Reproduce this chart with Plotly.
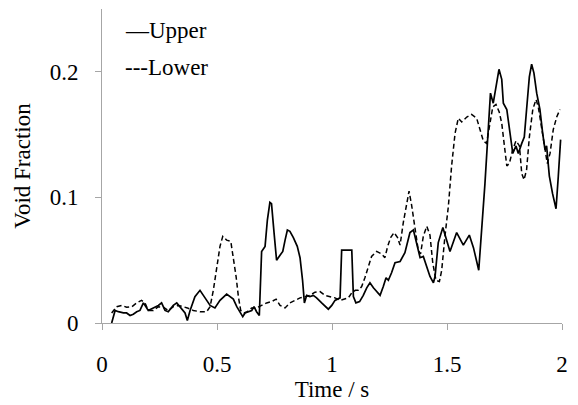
import plotly.graph_objects as go

# Upper (solid) series
upper_t = [0.042, 0.057, 0.071, 0.093, 0.107, 0.122, 0.136, 0.151, 0.165, 0.180, 0.201, 0.223, 0.245, 0.259,
           0.274, 0.288, 0.310, 0.325, 0.339, 0.361, 0.371, 0.383, 0.404, 0.426, 0.448, 0.470, 0.491, 0.513,
           0.542, 0.571, 0.586, 0.600, 0.612, 0.622, 0.636, 0.651, 0.661, 0.672, 0.684, 0.694, 0.709, 0.719,
           0.730, 0.737, 0.748, 0.759, 0.774, 0.786, 0.796, 0.806, 0.817, 0.832, 0.849, 0.861, 0.872, 0.880,
           0.890, 0.904, 0.919, 0.933, 0.955, 0.970, 0.984, 0.999, 1.013, 1.035, 1.042, 1.064, 1.086, 1.093,
           1.104, 1.120, 1.136, 1.151, 1.165, 1.180, 1.194, 1.209, 1.223, 1.235, 1.245, 1.259, 1.274, 1.296,
           1.317, 1.339, 1.354, 1.368, 1.383, 1.397, 1.412, 1.426, 1.441, 1.448, 1.462, 1.482, 1.513, 1.542,
           1.571, 1.597, 1.615, 1.638, 1.665, 1.689, 1.701, 1.713, 1.726, 1.738, 1.745, 1.760, 1.771, 1.786,
           1.800, 1.810, 1.825, 1.836, 1.846, 1.858, 1.868, 1.878, 1.890, 1.904, 1.916, 1.926, 1.933, 1.945,
           1.959, 1.974, 1.984, 1.994]
upper_v = [0.000, 0.010, 0.009, 0.008, 0.008, 0.006, 0.007, 0.009, 0.010, 0.016, 0.010, 0.012, 0.014, 0.016,
           0.010, 0.009, 0.014, 0.016, 0.013, 0.008, 0.002, 0.010, 0.021, 0.026, 0.020, 0.014, 0.012, 0.018,
           0.023, 0.019, 0.013, 0.009, 0.005, 0.008, 0.009, 0.010, 0.013, 0.009, 0.006, 0.057, 0.061, 0.082,
           0.096, 0.095, 0.072, 0.050, 0.054, 0.057, 0.066, 0.074, 0.073, 0.068, 0.061, 0.052, 0.034, 0.016,
           0.022, 0.021, 0.022, 0.020, 0.016, 0.013, 0.011, 0.014, 0.018, 0.020, 0.058, 0.058, 0.058, 0.021,
           0.016, 0.017, 0.022, 0.028, 0.032, 0.028, 0.025, 0.022, 0.029, 0.036, 0.034, 0.040, 0.048, 0.049,
           0.056, 0.072, 0.074, 0.064, 0.052, 0.053, 0.045, 0.037, 0.032, 0.037, 0.064, 0.076, 0.057, 0.072,
           0.062, 0.070, 0.060, 0.042, 0.111, 0.183, 0.175, 0.188, 0.202, 0.194, 0.175, 0.170, 0.154, 0.135,
           0.141, 0.135, 0.143, 0.148, 0.170, 0.196, 0.206, 0.199, 0.183, 0.170, 0.151, 0.138, 0.141, 0.117,
           0.103, 0.091, 0.117, 0.146]

# Lower (dashed) series
lower_t = [0.042, 0.064, 0.086, 0.107, 0.130, 0.151, 0.172, 0.187, 0.201, 0.223, 0.245, 0.267, 0.288, 0.310,
           0.332, 0.354, 0.371, 0.397, 0.426, 0.455, 0.470, 0.484, 0.499, 0.513, 0.525, 0.542, 0.560, 0.571,
           0.583, 0.593, 0.603, 0.617, 0.632, 0.651, 0.672, 0.694, 0.716, 0.737, 0.757, 0.774, 0.796, 0.817,
           0.839, 0.861, 0.883, 0.904, 0.926, 0.948, 0.970, 0.991, 1.013, 1.035, 1.055, 1.071, 1.086, 1.101,
           1.115, 1.129, 1.143, 1.158, 1.172, 1.194, 1.216, 1.230, 1.242, 1.255, 1.270, 1.285, 1.296, 1.310,
           1.325, 1.335, 1.346, 1.361, 1.375, 1.385, 1.397, 1.412, 1.426, 1.438, 1.452, 1.467, 1.477, 1.491,
           1.506, 1.520, 1.535, 1.549, 1.564, 1.586, 1.607, 1.629, 1.643, 1.658, 1.672, 1.684, 1.699, 1.713,
           1.727, 1.738, 1.748, 1.760, 1.771, 1.786, 1.800, 1.815, 1.825, 1.835, 1.846, 1.858, 1.873, 1.887,
           1.897, 1.912, 1.926, 1.936, 1.948, 1.962, 1.977, 1.991]
lower_v = [0.008, 0.013, 0.014, 0.0125, 0.013, 0.016, 0.018, 0.016, 0.010, 0.010, 0.013, 0.0125, 0.010, 0.013,
           0.014, 0.013, 0.012, 0.010, 0.009, 0.009, 0.013, 0.026, 0.045, 0.061, 0.069, 0.066, 0.065, 0.053,
           0.037, 0.021, 0.010, 0.008, 0.009, 0.012, 0.012, 0.014, 0.016, 0.017, 0.019, 0.014, 0.012, 0.016,
           0.018, 0.020, 0.021, 0.022, 0.0245, 0.025, 0.022, 0.021, 0.020, 0.018, 0.019, 0.020, 0.024, 0.026,
           0.026, 0.029, 0.036, 0.045, 0.053, 0.057, 0.055, 0.052, 0.061, 0.068, 0.072, 0.068, 0.062, 0.080,
           0.095, 0.105, 0.094, 0.074, 0.058, 0.055, 0.069, 0.077, 0.070, 0.048, 0.034, 0.033, 0.042, 0.069,
           0.093, 0.125, 0.151, 0.163, 0.160, 0.164, 0.166, 0.163, 0.154, 0.145, 0.143, 0.156, 0.172, 0.174,
           0.168, 0.159, 0.141, 0.125, 0.127, 0.138, 0.145, 0.141, 0.119, 0.114, 0.122, 0.148, 0.170, 0.178,
           0.172, 0.154, 0.138, 0.127, 0.135, 0.154, 0.164, 0.170]

series_names = ["Upper", "Lower"]
legend_labels = ["\u2014Upper", "---Lower"]

x_tickvals = [0, 0.5, 1, 1.5, 2]
x_ticktext = ["0", "0.5", "1", "1.5", "2"]
y_tickvals = [0, 0.1, 0.2]
y_ticktext = ["0", "0.1", "0.2"]

FONT = "Liberation Serif, Times New Roman, serif"
FS = 23
FS_TITLE = 23

fig = go.Figure()
fig.add_trace(go.Scatter(x=upper_t, y=upper_v, mode="lines", name=series_names[0],
                         line=dict(color="black", width=1.7)))
fig.add_trace(go.Scatter(x=lower_t, y=lower_v, mode="lines", name=series_names[1],
                         line=dict(color="black", width=1.5, dash="5px,3px")))

# legend drawn as text, as in the original
fig.add_annotation(xref="paper", yref="paper", x=0.046, y=0.93, xanchor="left", yanchor="middle",
                   text=legend_labels[0], showarrow=False, font=dict(family=FONT, size=FS, color="black"))
fig.add_annotation(xref="paper", yref="paper", x=0.046, y=0.813, xanchor="left", yanchor="middle",
                   text=legend_labels[1], showarrow=False, font=dict(family=FONT, size=FS, color="black"))

axis_color = "#a6a6a6"
fig.update_layout(
    width=578, height=405,
    margin=dict(l=102, r=16, t=9, b=82),
    paper_bgcolor="white", plot_bgcolor="white",
    font=dict(family=FONT, size=FS, color="black"),
    showlegend=False,
    xaxis=dict(range=[0, 2], tickvals=x_tickvals, ticktext=x_ticktext, showgrid=False, zeroline=False,
               showline=True, linecolor=axis_color, linewidth=1, ticks="outside", tickcolor=axis_color,
               ticklen=6, automargin=False, ticklabelstandoff=14,
               title=dict(text="Time / s", standoff=5, font=dict(size=FS_TITLE))),
    yaxis=dict(range=[0, 0.25], tickvals=y_tickvals, ticktext=y_ticktext, showgrid=False, zeroline=False,
               showline=True, linecolor=axis_color, linewidth=1, ticks="outside", tickcolor=axis_color,
               ticklen=6, automargin=False, ticklabelstandoff=12,
               title=dict(text="Void Fraction", standoff=12, font=dict(size=FS_TITLE))),
)

fig.write_html("out.html")
